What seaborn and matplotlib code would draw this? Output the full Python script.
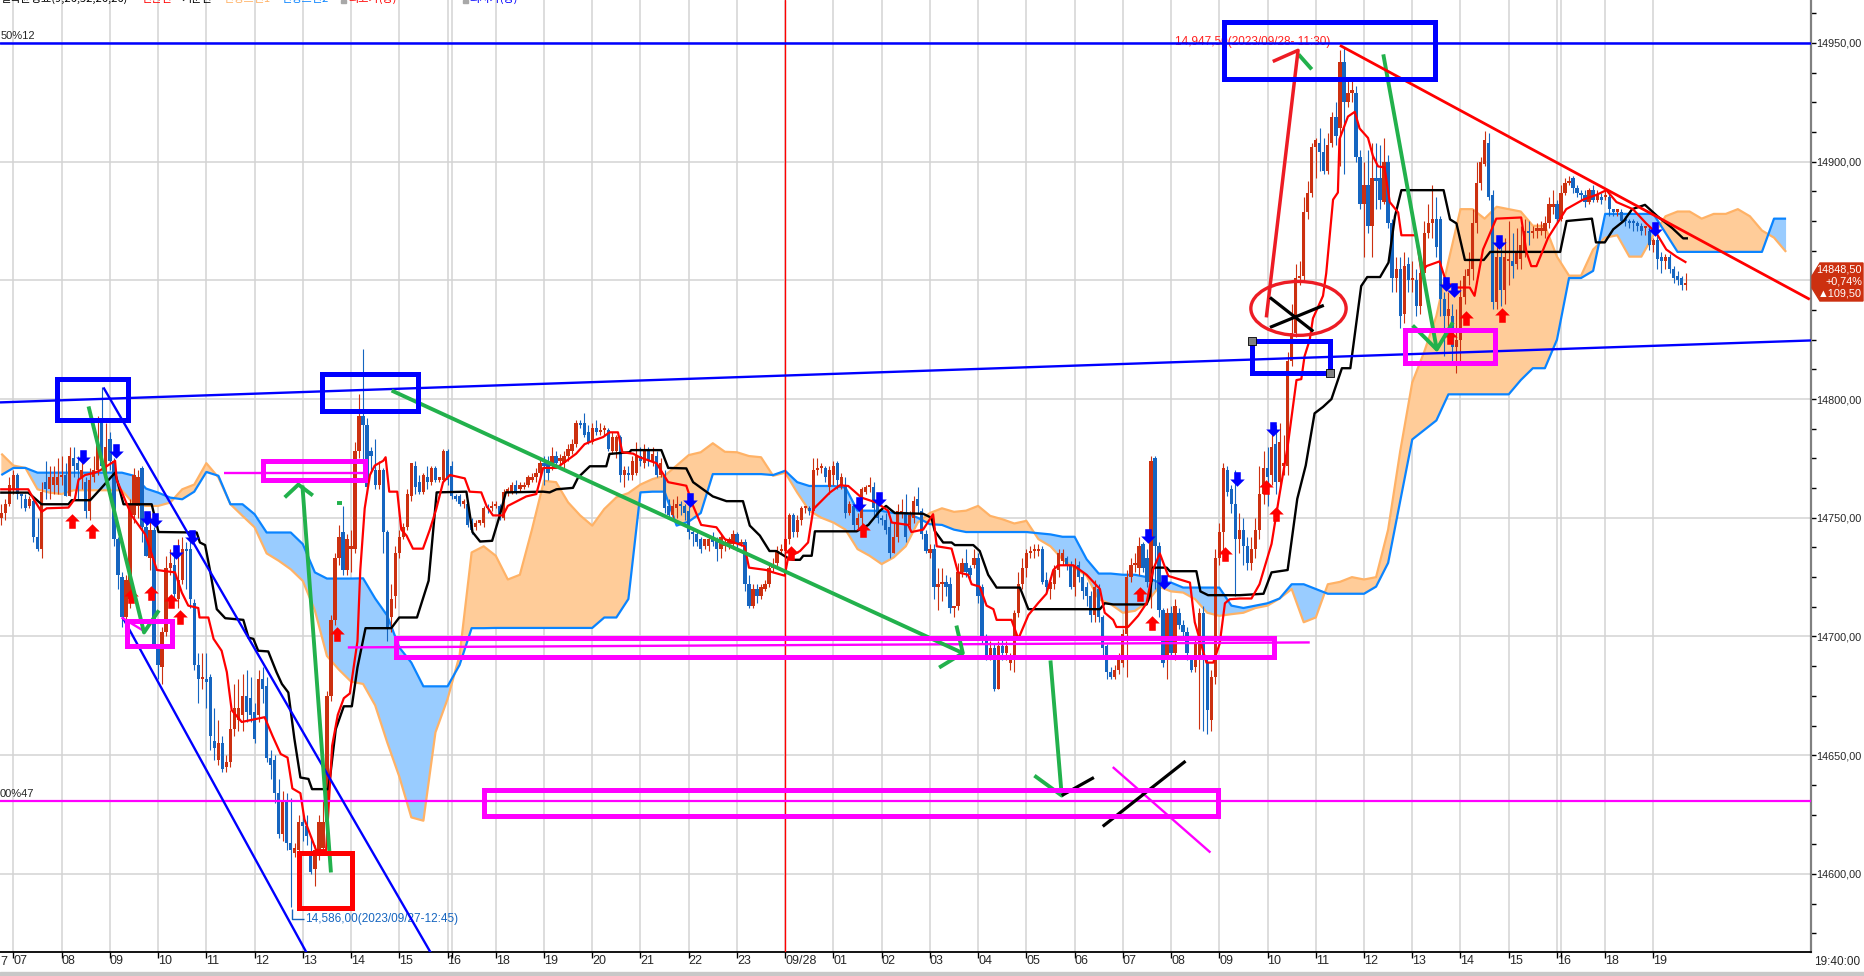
import matplotlib
matplotlib.use('Agg')
from matplotlib import pyplot as plt
from matplotlib.patches import Ellipse, Polygon, Rectangle
from matplotlib.path import Path
import seaborn as sns

# prices are stored as points above 14000, one row per 5 minute bar: open, close, low, high
BASE = 14000

start_a = -3
bars_a = [(750,752,747,756),(752,756,749,758),(756,764,755,767),(762,768,760,770),(768,760,758,769),(760,759,754,760),
 (758,754,753,760),(755,758,754,759),(757,742,740,758),(742,737,736,750),(737,761,733,765),(765,762,758,774),
 (762,767,758,772),(764,767,760,772),(764,767,760,775),(767,768,764,776),(768,759,759,773),(759,776,759,780),
 (775,772,767,780),(773,770,758,776),(767,770,762,777),(765,753,750,767),(753,766,749,771),(767,770,765,776),
 (770,782,768,793),(791,772,770,805),(770,780,766,790),(783,774,770,786),(774,741,738,775),(741,726,720,742),
 (725,708,704,727),(708,724,705,726),(716,756,712,758),(751,768,748,771),(755,767,750,770),(771,746,740,772),
 (746,734,734,750),(733,745,728,752),(745,696,695,746),(695,688,682,696),(687,702,680,704),(702,729,700,734),
 (729,731,726,737),(730,718,716,737),(716,724,712,741),(724,737,722,742),(737,736,720,740),(737,716,712,741),
 (714,688,686,716),(688,682,672,693),(682,683,678,693),(682,681,670,693),(683,658,652,684),(656,653,648,670),
 (648,655,646,665),(655,644,643,658),(645,647,643,650),(647,661,645,669),(661,670,658,680),(665,670,660,682),
 (667,675,660,684),(675,668,664,686),(674,667,664,683),(668,657,655,672),(667,682,664,686),(682,678,672,687),
 (679,649,647,683),(649,646,640,652),(648,634,630,650),(634,617,615,640),(617,631,614,635),(631,613,610,634),
 (613,610,586,632),(609,611,607,613),(610,622,607,625),(622,620,614,625),(620,616,612,625),(608,601,600,616),
 (602,610,595,612),(610,622,606,625),(611,622,608,631),(622,675,620,677),(675,707,673,709),(707,733,705,735)]

start_b = 81
bars_b = [(733,742,730,747),(744,728,726,755),(728,741,726,743),(737,738,727,745),(737,778,735,782),(778,793,775,802),
 (793,789,772,821),(789,763,760,792),(778,776,770,780),(770,764,762,783),(764,770,762,774),(770,744,735,771),
 (744,703,698,745),(708,716,702,722),(717,735,712,738),(735,742,733,745),(742,746,741,748),(746,760,745,762),
 (759,773,757,773),(772,763,760,774),(765,761,760,768),(761,768,760,769),(767,765,762,772),(765,771,764,772),
 (771,766,765,772),(766,766,765,767),(766,778,765,779),(778,766,764,779),(772,759,758,774),(759,758,757,760),
 (759,756,755,760),(756,756,754,758),(756,747,746,757),(747,745,743,750),(746,748,745,749),(748,748,747,749),
 (748,754,746,755),(755,754,752,756),(754,755,753,757),(755,755,754,757),(755,751,749,756),(750,761,749,762),
 (761,761,759,763),(761,764,760,765),(764,761,760,766),(762,764,761,765),(763,764,762,765),(764,767,763,768),
 (766,767,765,769),(767,769,765,771),(769,773,766,775),(773,772,764,776),(773,769,766,776),(772,776,770,780),
 (776,773,771,778),(774,775,772,777),(773,776,771,778),(776,779,774,781),(778,781,777,783),(781,790,780,791),
 (790,789,788,791),(790,785,784,794),(786,782,781,789),(782,788,781,790),(788,786,785,791),(786,787,785,790),
 (787,787,785,789),(787,779,778,788),(778,784,777,786),(778,784,775,785),(784,768,765,785),(768,770,763,772),
 (769,768,766,772),(768,774,766,776),(769,776,768,782),(776,774,772,780),(773,778,771,781),(779,774,772,780),
 (774,777,772,780),(776,768,767,778),(768,773,767,775),(768,754,752,770),(755,751,750,758),(751,755,750,758),
 (754,756,750,759),(756,755,751,757),(755,752,749,756),(753,744,741,755),(744,743,738,745),(743,740,738,744),
 (741,737,735,742),(738,741,737,741),(738,741,736,742),(742,740,738,744),(741,737,732,742),(737,742,733,743),
 (738,740,736,741),(739,741,737,742),(739,743,737,745),(743,739,736,744),(739,740,738,741),(740,722,719,741),
 (722,713,712,726),(713,720,712,722),(720,717,714,722),(717,721,716,722),(720,722,719,724),(722,729,721,730),
 (729,730,727,733),(731,736,729,738),(736,737,735,739),(736,741,734,742),(741,751,739,752),(751,744,742,752),
 (744,749,742,751)]

start_c = 196
bars_c = [(749,754,747,755),(754,754,752,755),(754,753,751,755),(753,770,752,775),(770,771,768,775),(771,771,769,773),
 (771,767,765,772),(763,770,760,772),(768,772,764,774),(773,766,762,774),(764,767,762,769),(764,752,750,767),
 (752,756,751,757),(755,747,745,756),(747,750,745,752),(750,762,746,763),(761,763,760,764),(763,763,761,767),
 (763,754,750,765),(756,750,748,759),(750,749,747,751),(749,745,743,752),(746,735,733,750),(735,742,735,748),
 (742,753,740,756),(752,753,750,758),(752,742,740,760),(747,751,745,753),(750,757,748,759),(758,755,752,763),
 (753,743,741,754),(743,736,735,745),(735,737,733,739),(737,721,716,739),(721,722,711,729),(722,723,715,729),
 (723,721,717,726),(722,712,710,725),(712,712,708,713),(713,727,711,731),(727,731,725,733),(731,727,725,737),
 (729,726,723,730),(730,733,729,737),(733,717,714,735),(721,699,697,722),(699,692,690,701),(692,695,690,698),
 (695,678,677,697),(678,696,678,698),(696,693,690,700),(693,696,690,698),(689,691,686,693),(692,710,685,711),
 (710,722,708,727),(722,729,720,733),(729,735,725,737),(735,735,733,738),(736,737,733,739),(736,737,734,739),
 (737,723,722,738),(724,721,719,727),(720,723,716,725),(722,728,720,730),(728,735,725,737),(732,735,730,737),
 (733,730,728,734),(730,721,720,732),(721,730,717,733),(730,725,723,732),(725,719,716,727),(721,717,713,723),
 (717,709,706,719),(709,721,706,724),(720,708,706,722),(708,695,692,709),(696,685,682,697),(685,683,682,687),
 (683,686,682,688),(686,692,684,693),(689,701,687,703),(701,725,683,728),(725,730,723,733),(730,730,727,735),
 (729,738,726,742),(739,729,727,740),(733,723,721,737),(723,774,712,776),(775,738,720,776),(738,711,708,740),
 (711,689,687,712),(690,710,682,712),(710,693,691,713),(693,713,690,716),(710,705,703,712),(705,702,700,707),
 (702,693,690,704),(690,686,685,692),(687,697,685,699),(690,710,661,712),(710,690,660,713),(689,669,659,691),
 (665,683,660,686),(683,733,680,737),(733,744,730,748),(744,771,735,773),(770,761,759,772),(762,756,752,764),
 (756,741,717,770)]

start_d = 305
bars_d = [(741,745,735,752),(745,738,730,750),(738,731,728,742),(731,737,728,742),(737,745,733,750),(745,760,741,772),
 (760,771,756,778),(771,767,755,780),(768,780,764,790),(781,765,760,789),(765,782,762,790),(772,773,768,785),
 (772,816,768,820),(816,828,814,840),(828,851,826,857),(851,852,848,858),(852,879,850,885),(879,887,876,892),
 (887,906,885,908),(906,909,893,910),(908,904,896,914),(904,896,895,910),(896,907,895,912),(908,919,906,921),
 (919,911,907,925),(914,942,898,947),(942,925,895,948),(925,929,923,935),(929,929,925,934),(929,902,900,932),
 (902,882,880,905),(882,890,860,900),(890,873,870,905),(873,893,860,908),(893,892,880,908),(893,884,880,907),
 (883,900,882,910),(900,874,872,903),(874,851,845,876),(851,855,845,860),(855,835,830,860),(836,856,832,862),
 (857,850,845,860),(850,850,845,858),(850,839,835,855),(839,853,836,856),(853,870,850,875),(870,874,868,882),
 (874,876,868,890),(876,864,860,885),(876,842,835,877),(842,835,818,845),(835,838,825,845),(835,822,815,840),
 (822,825,811,838),(825,843,815,850),(843,852,840,855),(852,855,848,862),(855,874,850,880),(874,891,870,900),
 (891,900,888,902),(899,909,898,913),(908,885,884,912),(886,841,838,888),(841,860,838,868),(860,846,839,866),
 (846,860,840,868),(858,858,848,875),(858,856,851,870),(857,862,855,872),(859,865,855,873),(862,871,860,876),
 (871,870,865,875),(870,871,868,873),(871,871,868,874),(871,872,869,875),(871,874,868,877),(874,882,872,885),
 (881,882,878,888),(882,876,874,884),(876,887,875,890),(887,891,886,893),(891,892,890,894),(893,889,887,894),
 (889,887,885,890),(887,886,884,888),(886,883,881,888),(883,888,882,889),(888,884,883,890),(884,886,883,888),
 (885,884,882,887),(885,885,884,888),(885,880,877,887),(880,879,877,880),(879,880,877,880),(879,875,874,880),
 (876,875,873,877),(875,874,872,876),(875,874,871,876),(874,873,871,875),(873,871,869,874),(872,872,869,873),
 (871,865,863,873),(865,867,862,868),(867,859,855,870),(860,858,853,862),(858,860,855,861),(860,855,853,861),
 (855,851,849,856),(852,850,848,854),(851,848,846,852),(848,848.5,846,853)]

# conversion line, bars and points above 14000
tenkan = [(-3.3,762),(3.7,762),(5,758),(7,752.5),(8.3,754),(13.7,754.3),(15.3,758),(16.2,766),(17.8,768),(20.3,769),(21.6,770),
 (25.3,774),(25.7,766),(29.4,751),(32.8,743),(35.7,728),(40.2,727),(41.9,718.5),(43.5,713),(46,712),(46.3,708),(48.5,708),
 (49.8,699),(51.8,694),(53.1,685),(54.3,669),(56.8,664),(62.5,666),(64.5,658),(66.5,650.5),(68.2,649),(69.4,636),(71.4,634),
 (72.4,623),(75.3,610),(77.8,610),(79.3,654),(80.7,667),(82.2,674),(83.7,676),(85.6,698),(86.3,728),(87.4,754),(88.7,768),
 (89.9,772),(92,774),(92.6,775.5),(93.5,761),(95.5,761),(96.5,745),(97.8,742.5),(99.4,737),(101.9,737),(103.6,745),
 (105.2,753.7),(106.9,765),(108.6,768),(112.3,766.6),(113.5,761),(116.4,760.7),(117.7,755),(119.3,751),(121.8,751),(123,755),
 (127.6,759),(130.1,760),(131.8,771),(135.1,771),(137.6,774),(140,777),(142.1,781),(144.2,782.5),(146.7,784),(148.3,786),
 (150.4,786),(151.5,777.6),(154.2,777),(155.8,775.5),(160,773),(162.9,765),(167.4,763.5),(169.1,755),(171.1,747),(174.9,746),
 (177,741),(181.9,738),(183,729),(187.3,728),(189,727),(191.9,725.6),(192.7,733),(193.6,734),(195.7,736),(197.7,739.6),
 (199,753.6),(199.8,755),(203.1,760.6),(205.6,763.7),(207.7,763.4),(211,758.5),(214.7,756.4),(217.6,753),(218.5,748),(222.6,747),
 (223.4,744),(226.3,745),(228.8,751.5),(229.7,738),(233.4,737),(235,727),(237.5,726),(238.4,722),(240.4,721),(242.1,713),
 (243.8,711.5),(244.6,707),(248.3,707),(250,699),(252.5,709),(254.9,714),(257,718),(258.7,728),(259.9,730),(263.7,730),(267,726),
 (270.3,720),(271.5,710),(273.6,707),(274.4,704),(277.3,704),(279.8,708.7),(281.9,714),(283.5,728),(285.2,735),(287.3,725.5),
 (292.7,722.7),(293.9,706),(296.8,689),(298.5,689),(300.1,697),(301.4,714),(302.6,715.7),(305.1,716),(308,716),(310,722),(313,739),
 (315,760),(317,780),(319.2,808),(320.4,808.4),(321.2,818),(322.5,825),(323.3,834),(325.8,843.5),(326.6,853),(328.3,884),
 (329.5,887),(329.9,909.5),(332,919),(333.7,921),(334.9,914),(337,910),(338.2,902.5),(339.5,898),(341.1,897.6),(342.4,883),
 (344.5,878.6),(345.3,869),(349,869),(350.3,853),(351.5,856),(354.8,858),(356.5,849),(359,847),(362.3,847),(363.5,843.5),
 (365.6,863),(368.9,876),(375.1,876.5),(376.4,862),(377.6,856),(378.9,856),(381.8,868),(386.3,880),(390.5,884),(393.8,886),
 (396.3,888),(398.8,883),(402.9,880),(406.2,874),(408.7,870),(411.2,863),(413.7,860),(416.2,857.5)]

# base line
kijun = [(-3.3,760.6),(3.7,760.6),(7,755.7),(13.7,755.7),(14.5,757.4),(19.1,757.4),(21.6,762),(25.3,769),(27.4,755.7),(34.4,755.7),
 (36.1,744),(45.6,743.8),(46.4,739.6),(47.7,738.5),(48.9,728),(50.6,711.5),(52.7,707.7),(57.2,707),(58.5,699.5),(59.7,699),
 (60.9,694),(63.4,693.7),(65.5,684.8),(66.8,680),(68.4,676.4),(69.9,657),(71.4,640.6),(73.4,640),(74.3,635.7),(78.3,635.7),
 (78.8,641),(80.2,661),(82.2,670.6),(84.2,670.6),(85.6,687),(87.6,703.5),(94,703.5),(96,708),(100.4,708),(101.9,716),(103.3,723.5),
 (105.3,760.7),(112.7,761),(114.2,744),(116.1,740),(119.1,740.3),(121,751),(122.5,760.7),(131.8,761),(133.4,760.7),(135.1,762),
 (139.2,762.6),(140.5,767),(143.4,771.7),(147.5,771.7),(148.3,776.9),(153.3,777.6),(153.7,778.5),(161.2,778.5),(162.9,771),
 (167.4,770.8),(169.1,765),(174,759),(177.4,757),(181.5,757),(183.2,746.7),(185.7,742.5),(188.1,736),(189.8,736),(193.1,732.6),
 (194,732.3),(195.7,732.3),(196.5,734),(198.6,734),(199.4,744.3),(209.8,744.3),(212.7,747),(215.6,753),(217.1,755),(218.1,753.6),
 (219.3,752),(226.3,751.7),(228.4,750),(229.2,744.5),(231.3,739.6),(233.4,739.6),(234.2,738.5),(238.8,738.5),(240.4,736),(242.5,726),
 (244.6,720.6),(250.4,720.6),(252.5,711.5),(270.3,711.5),(271.5,714),(273.6,713.5),(281.9,713.5),(282.7,717),(283.5,729),(286.9,729),
 (287.7,727.5),(294.3,727.5),(295.3,719),(297.2,717.4),(305.1,717.4),(311,718),(313,727),(317,728),(319.4,758),(321.5,772),(323.7,794),
 (325.8,796.7),(327.9,800),(330.5,813),(332.6,813),(335.3,847.6),(336.8,851.4),(340,851.4),(342.1,857.5),(343.7,877),(345.3,888),
 (355.8,888),(357.4,875.7),(359,874),(361.1,858.6),(365.8,858.6),(367.4,862),(384.8,862),(386.4,875),(392.7,876),(393.7,866),
 (395.9,866),(398,871.5),(400.6,875),(402.7,880),(405.9,881.8),(409,877),(412.7,872),(415.4,867.7),(416.6,867.7)]

# cloud, both spans read at the same bars, every third bar from bar -3
span_a = [777,772,771,762,760.6,760,761.6,761.6,761.6,761.6,761.6,755.7,
 755,755,756.4,762,764,773,767,755.7,750.8,746,735,731.9,
 728.3,723.4,711,691.8,686,681,680,671,655.4,641,623.8,622.4,
 659.6,673.6,692,735.4,738,734,724,726,745,765.6,765,756.5,
 751,746.7,753.7,758.6,760.4,764,766.3,767.7,772,776.4,777.6,781.4,
 777.8,777.6,776,775.5,767.7,769,760.6,753,750,748,745,736.8,
 734,730.5,733.3,738,748,752,754,752.5,753,755,750.8,749.4,
 747.6,748.7,741,738,732.5,729,725.5,715.7,713.6,710,710.8,714.3,
 721,719,718.5,715.7,710,708.7,709.4,710,712,713,716,720,
 706,708,722,723,725,724,725,745,778,807,820,835,
 858,880,880,876,881,880,879,873,873,860,852,852,
 863,868,869,860,860,869,877,879,879,876,878,878,
 880,877,871,868,862]
span_b = [768,771,771,769,769,769,769,769,769,769,769,767.7,
 762.3,760.6,758.5,757.8,761,769.3,767.7,755.7,755.7,751.5,743.8,743.8,
 743.8,738.9,727,724.4,724.4,724.4,724.5,716,708.8,695.4,689,679,
 679,679,688,703.5,703.5,703.6,703.6,703.6,703.6,703.6,703.6,703.6,
 703.6,703.6,708,708,715.8,760.7,761,761,746.7,748.4,752,768.4,
 768.4,768.4,768.4,768.4,768,769.8,765,763.4,763.4,763.4,762.7,753,
 753,752.9,752,752,750,747.3,747,745,744,744,744,744,
 744,744,743.5,743,742,742,732.5,726.5,726.5,726,726,725,
 722.7,722.7,720.6,720.6,720.6,720.6,713,712,713,714,716,722,
 722,720,718,718,718,718,721,731,757,783,787,791,
 802,802,802,802,802,802,808,813,813,825,851,851,
 854,878,878,878,878,878,870,862,862,862,862,862,
 862,862,862,876,876]

# hand drawn signals: bar and points above 14000
up_arrow_bars = [14.5,19.5,29.2,34.2,39.3,41.5,80.4,193.5,211.4,280.2,283.3,301.5,311.7,314,357.5,361.4,370.4]
up_arrow_vals = [748.7,744.5,717,718.2,715,708.3,701,735,745,718,705.6,734.7,762.8,751.8,826,834,835.4]
down_arrow_bars = [17.4,25.5,33.3,35.3,40.5,44.4,168.2,210.3,215.4,282.3,286.3,304.4,313.3,356.5,358.5,369.5,408.5]
down_arrow_vals = [775.8,778,750,749,735.6,742.1,757.6,756,758,742.4,723,766.3,787.6,848.4,846,866,871.5]

box_left = [10.9,76.8,301.1,308.1,28.3,62.1,95.2,117,346.2,71]
box_right = [28.6,100.6,353.6,327.5,39.5,87.5,313.6,299.7,368.6,84.2]
box_low = [791,794.8,934.7,810.8,695.8,766.1,691.2,624.2,815,585.8]
box_high = [808.3,810.4,959,824.3,706.7,774.1,699.2,635.5,829.3,609]
box_colors = ['#0000FF','#0000FF','#0000FF','#0000FF','#FF00FF','#FF00FF','#FF00FF','#FF00FF','#FF00FF','#FF0000']

blue_strokes = [([-3.33,447.2],[798.6,824.7]),([22.4,104.1],[804.9,566]),([27.2,73.2],[708,566])]
green_strokes = [([18.7,32.5,36.2],[796.9,701.7,711]),([79,71.9],[600.6,763.6]),([67.5,70.9,74.5],[758.6,764,759.4]),
 ([80.5,81.7],[756.2,756.2]),([94.1,236.2],[803.6,693]),([230.3,236.2,234.6],[686.9,693,704.6]),
 ([258,260.8,254],[689.9,633,641.4]),([319.7,323],[945.2,938.9]),([340.8,354.1,358.1],[945.2,820.9,832.3]),
 ([348.1,354.1],[831,820.9])]
red_strokes = [([311.7,319.6,313.3],[834.4,946.9,942.2])]
black_strokes = [([312.6,323.4],[842.8,828.5]),([312.6,326],[830.2,839.5]),([271,291.6],[620,647.5]),([260.8,268.8],[633,640.6])]
magenta_strokes = [([273.5,297.8],[645,609]),([26.9,32.3],[708,702.5]),([52.4,87.5],[769,769]),([83.2,322.5],[695.4,697.5])]
fall_line_bars = [330,446.9]
fall_line_vals = [949,842]
low_mark_bars = [69.3,69.3,72.3]
low_mark_vals = [585.4,580.8,580.8]

hour_bars = [12*k for k in range(35)]
hour_labels = ['07','08','09','10','11','12','13','14','15','16','18','19','20','21','22','23','09/28',
               '01','02','03','04','05','06','07','08','09','10','11','12','13','14','15','16','18','19']
session_bars = [109, 385]
price_ticks = [14600,14650,14700,14750,14800,14850,14900,14950]
price_labels = ['14600,00','14650,00','14700,00','14750,00','14800,00','14850,00','14900,00','14950,00']

FW, FH = 1864, 976
UI = ['Liberation Sans', 'DejaVu Sans']
UP, DOWN = '#CC3010', '#1565C0'

sns.set_style('white')
plt.rcParams['font.family'] = UI

fig = plt.figure(figsize=(FW/100, FH/100), dpi=100)
ax = fig.add_axes([0, (FH-952)/FH, 1811/FW, 952/FH])
ax.set_xlim(-3.33, 447.2)
ax.set_ylim(14567.1, 14968.1)


def prices(vals):
    return [BASE + v for v in vals]


def stroke(bars, vals, color, width, z=6):
    sns.lineplot(x=bars, y=prices(vals), color=color, linewidth=width, estimator=None, sort=False,
                 legend=False, ax=ax, zorder=z, solid_capstyle='butt')


# grid
for b in hour_bars + session_bars:
    ax.axvline(b, color='#D3D3D3', lw=1.1, zorder=0)
for p in price_ticks:
    ax.axhline(p, color='#D3D3D3', lw=1.1, zorder=0)

# cloud
cloud_x = [-3 + 3*k for k in range(len(span_a))]
a_line, b_line = prices(span_a), prices(span_b)
ax.fill_between(cloud_x, a_line, b_line, where=[p >= q for p, q in zip(a_line, b_line)], interpolate=True,
                color='#FFCC99', lw=0, zorder=1)
ax.fill_between(cloud_x, a_line, b_line, where=[p <= q for p, q in zip(a_line, b_line)], interpolate=True,
                color='#99CCFF', lw=0, zorder=1)
stroke(cloud_x, span_a, '#FFB266', 1.6, 2)
stroke(cloud_x, span_b, '#0A84FF', 1.6, 2)

# candles
for start, rows in [(start_a, bars_a), (start_b, bars_b), (start_c, bars_c), (start_d, bars_d)]:
    for i, (o, c, lo, hi) in enumerate(rows):
        colour = UP if c >= o else DOWN
        x = start + i
        ax.vlines(x, BASE + lo, BASE + hi, color=colour, lw=0.8, zorder=3)
        ax.bar(x, max(abs(c - o), 1), bottom=BASE + min(o, c), width=0.82, color=colour, lw=0, zorder=3)

stroke([b for b, v in kijun], [v for b, v in kijun], 'black', 1.7, 4)
stroke([b for b, v in tenkan], [v for b, v in tenkan], '#FF0000', 1.6, 4)

# signal arrows
up_shape = Path([(0, 1), (1, 0), (0.45, 0), (0.45, -1), (-0.45, -1), (-0.45, 0), (-1, 0), (0, 1)], closed=True)
down_shape = Path([(0, -1), (1, 0), (0.45, 0), (0.45, 1), (-0.45, 1), (-0.45, 0), (-1, 0), (0, -1)], closed=True)
sns.scatterplot(x=up_arrow_bars, y=prices(up_arrow_vals), marker=up_shape, s=110, color='#FF0000', lw=0, ax=ax, zorder=5)
sns.scatterplot(x=down_arrow_bars, y=prices(down_arrow_vals), marker=down_shape, s=110, color='#0000FF', lw=0, ax=ax, zorder=5)

# reference lines
ax.axhline(14950, color='#0000FF', lw=1.8, zorder=6)
ax.axhline(14630.5, color='#FF00FF', lw=1.6, zorder=6)
ax.axvline(192, color='#FF0000', lw=1, zorder=5)

for bars, vals in blue_strokes:
    stroke(bars, vals, '#0000FF', 1.7)
for bars, vals in magenta_strokes:
    stroke(bars, vals, '#FF00FF', 1.7)
for bars, vals in green_strokes:
    stroke(bars, vals, '#22B14C', 2.8)
for bars, vals in red_strokes:
    stroke(bars, vals, '#ED1C24', 2.5)
for bars, vals in black_strokes:
    stroke(bars, vals, 'black', 2.3)
stroke(fall_line_bars, fall_line_vals, '#FF0000', 2)
stroke(low_mark_bars, low_mark_vals, DOWN, 1)

for left, right, low, high, colour in zip(box_left, box_right, box_low, box_high, box_colors):
    ax.add_patch(Rectangle((left, BASE + low), right - left, high - low, fill=False, ec=colour, lw=3.6,
                           joinstyle='miter', zorder=7))
ax.add_patch(Ellipse((319.7, 14838.2), 23.7, 22.7, fill=False, ec='#ED1C24', lw=2.4, zorder=7))

# drag handles of the selected box
ax.scatter([308.1, 327.5], [14824.3, 14810.8], marker='s', s=28, color='#808080', edgecolor='black', lw=0.6, zorder=8)

# text on the chart
ax.text(-3.3, 14951, '50%12', fontsize=8, va='bottom', ha='left', zorder=8)
ax.text(-3.3, 14631.5, '00%47', fontsize=8, va='bottom', ha='left', zorder=8)
ax.text(289, 14950.5, '14,947,50(2023/09/28- 11:30)', color='#FF2020', fontsize=8.5, va='center', ha='left', zorder=5)
ax.text(72.6, 14580.8, '14,586,00(2023/09/27-12:45)', color=DOWN, fontsize=8.5, va='center', ha='left', zorder=5)

# axes
ax.yaxis.tick_right()
ax.set_yticks(price_ticks, price_labels)
ax.set_yticks([14575 + 12.5*k for k in range(32)], minor=True)
ax.tick_params(axis='y', which='major', length=3.5, width=1, color='black', labelsize=7.8, pad=0.5, right=True)
ax.tick_params(axis='y', which='minor', length=3.5, width=1, color='black', right=True)
ax.set_xticks(hour_bars, hour_labels, ha='left')
ax.set_xticks(session_bars, minor=True)
ax.tick_params(axis='x', which='both', length=4, width=1, color='black', labelsize=9, pad=-1.5, bottom=True)
for side in ['top', 'left']:
    ax.spines[side].set_visible(False)
ax.spines['bottom'].set_color('black')
ax.spines['bottom'].set_linewidth(1.3)
ax.spines['right'].set_color('#808080')
ax.spines['right'].set_linewidth(1.6)
ax.set_xlabel('')
ax.set_ylabel('')


def fx(px):
    return px / FW


def fy(py):
    return 1 - py / FH


# last price tag
fig.add_artist(Polygon([(fx(1820), fy(263)), (fx(1863), fy(263)), (fx(1863), fy(301)), (fx(1820), fy(301)),
                        (fx(1812), fy(288)), (fx(1812), fy(276))], closed=True, transform=fig.transFigure,
                       color='#CC3010', zorder=5))
for py, label in [(270, '14848,50'), (282, '+0,74%'), (294, '▲109,50')]:
    fig.text(fx(1862), fy(py), label, color='white', fontsize=7.8, ha='right', va='center', zorder=6,
             family=['Liberation Sans', 'DejaVu Sans'])

fig.text(fx(1860), fy(962), '19:40:00', fontsize=8.5, ha='right', va='center')
fig.text(fx(0), fy(962), '7', fontsize=9, ha='left', va='center')

# bottom frame of the window
fig.add_artist(Rectangle((0, 0), 1, 4/FH, transform=fig.transFigure, color='#C8C8C8', zorder=5))

# legend strip, cut by the top of the window
legend_font = ['Noto Sans CJK KR', 'DejaVu Sans']
legend_parts = [(0, '일목균형표(9,26,52,26,26)', 'black'), (141, '전환선', '#FF0000'), (181, '기준선', 'black'),
                (223, '선행스팬1', '#FFB266'), (281, '선행스팬2', '#0A84FF'), (348, '최고가(봉)', '#FF0000'),
                (469, '최저가(봉)', '#0000FF')]
for px, label, colour in legend_parts:
    fig.text(fx(px), fy(2), label, color=colour, fontsize=8, ha='left', va='baseline', family=legend_font)
for px in [341, 463]:
    fig.add_artist(Rectangle((fx(px), fy(3)), 5/FW, 3/FH, transform=fig.transFigure, color='#A8A8A8'))

fig.savefig('out.png', dpi=100)
